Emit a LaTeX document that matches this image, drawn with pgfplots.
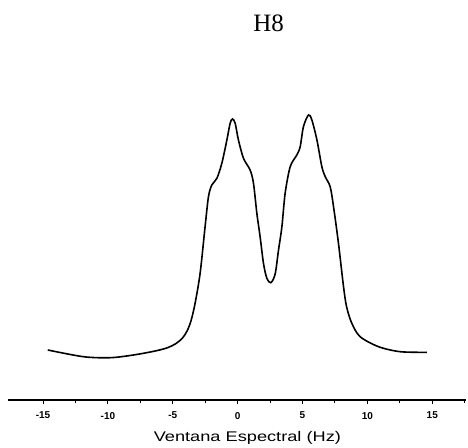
\documentclass[border=0pt]{standalone}
\usepackage{fontspec}
\setmainfont{Liberation Sans}
\newfontfamily\titlefont{Liberation Serif}
\usepackage{pgfplots}
\pgfplotsset{compat=1.18}
\usepackage{graphicx}

\begin{document}
\begin{tikzpicture}[x=1pt,y=1pt]
\useasboundingbox (0,0) rectangle (468,447);
\begin{axis}[
  at={(8pt,47pt)}, anchor=south west,
  scale only axis, width=458pt, height=340pt,
  xmin=-17.7, xmax=17.6, ymin=0, ymax=340,
  axis x line*=bottom, axis y line=none,
  axis line style={-, line width=1.4pt},
  xtick={-15,-10,-5,0,5,10,15},
  xticklabels={-15,-10,-5,0,5,10,15},
  minor xtick={-12.5,-7.5,-2.5,2.5,7.5,12.5,17.5},
  tick align=outside,
  major tick length=4pt, minor tick length=3pt,
  tick style={line width=1pt, black},
  xticklabel style={font=\fontsize{10}{10}\selectfont\bfseries, yshift=-4.5pt},
  clip=false,
]
% H8 spectral line shape (doublet)
\addplot[black, line width=1.6pt, smooth, tension=0.5] coordinates {
  (-14.63,50) (-11.89,43.3) (-9.83,42.3) (-8.03,45) (-6.36,49)
  (-5.40,52.3) (-4.75,56.5) (-4.25,62) (-3.90,69) (-3.60,79)
  (-3.28,96.7) (-2.89,127)
  (-2.51,173.3) (-2.25,203.3) (-1.99,215) (-1.60,221.7) (-1.22,236.7)
  (-0.83,260) (-0.58,276.7) (-0.40,281) (-0.19,276.7) (0.06,260)
  (0.45,241.7) (0.96,230) (1.22,216.7) (1.48,186.7) (1.73,163.3)
  (1.99,136.7) (2.25,121.7) (2.56,117.3) (2.89,126) (3.15,150)
  (3.41,173.3) (3.66,206.7) (4.05,233.3) (4.56,245) (4.82,253.3)
  (5.07,273.3) (5.46,285) (5.72,280) (6.11,260) (6.49,233.3)
  (6.75,223.3) (7.13,213.3) (7.39,193.3) (7.77,156.7) (8.16,113.3)
  (8.40,93) (8.80,76.7) (9.44,63.3) (10.86,53.3) (12.53,48.3)
  (14.59,47.7)
};
\node[anchor=base, font=\titlefont\fontsize{25}{25}\selectfont] at (axis cs:2.39,368) {H8};
\node[anchor=base, font=\fontsize{14}{14}\selectfont] at (axis cs:0.75,-41) {\scalebox{1.3}[1]{Ventana Espectral (Hz)}};
\end{axis}
\end{tikzpicture}
\end{document}
